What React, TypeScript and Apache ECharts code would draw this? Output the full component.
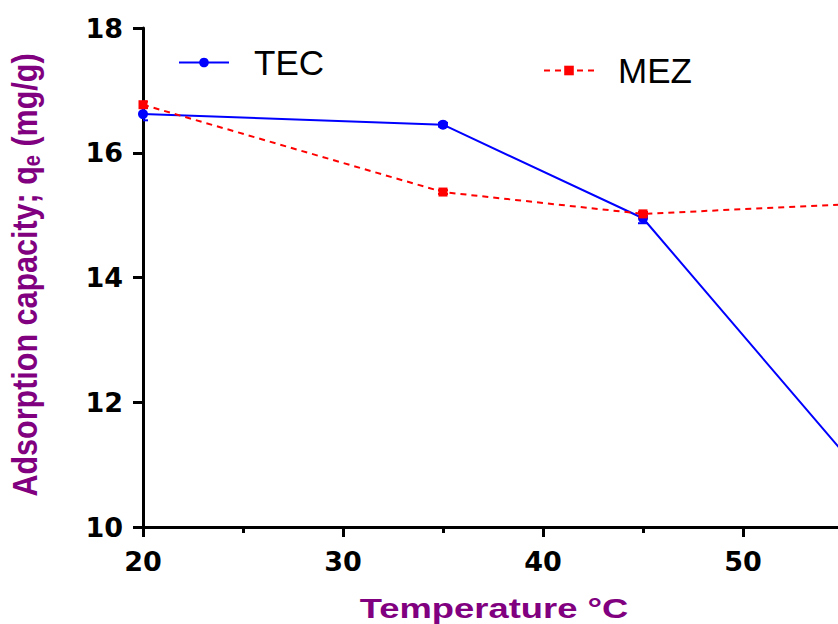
import React, { useEffect, useRef } from "react";
import * as echarts from "echarts";

const temperatures = [20, 35, 45, 55];
const tecValues = [16.62, 16.45, 14.95, 11.2];
const mezValues = [16.77, 15.37, 15.02, 15.17];
const tecErrors = [0.1, 0.03, 0.08, 0.08];
const mezErrors = [0.05, 0.03, 0.03, 0.05];
const seriesNames = ["TEC", "MEZ"];
const yAxisTitle = "Adsorption capacity; q";
const xAxisTitle = "Temperature \u00B0C";

const FONT = "'Liberation Sans', Arial, sans-serif";
const TICKFONT = "'DejaVu Sans', sans-serif";
const BLUE = "#0000ff";
const RED = "#ff0000";
const PURPLE = "#800080";

function errorSeries(values: number[], errors: number[], color: string) {
  return {
    type: "custom",
    silent: true,
    z: 3,
    clip: true,
    renderItem: (params: any, api: any) => {
      const x = api.value(0);
      const y = api.value(1);
      const e = api.value(2);
      const hi = api.coord([x, y + e]);
      const lo = api.coord([x, y - e]);
      const cap = 5;
      const st = { stroke: color, lineWidth: 2 };
      return {
        type: "group",
        children: [
          { type: "line", shape: { x1: hi[0], y1: hi[1], x2: lo[0], y2: lo[1] }, style: st },
          { type: "line", shape: { x1: hi[0] - cap, y1: hi[1], x2: hi[0] + cap, y2: hi[1] }, style: st },
          { type: "line", shape: { x1: lo[0] - cap, y1: lo[1], x2: lo[0] + cap, y2: lo[1] }, style: st },
        ],
      };
    },
    data: temperatures.map((t, i) => [t, values[i], errors[i]]),
  };
}

export default function App() {
  const ref = useRef<HTMLDivElement>(null);
  useEffect(() => {
    if (!ref.current) return;
    document.body.style.margin = "0";
    document.body.style.overflow = "hidden";
    const chart = echarts.init(ref.current, null, { renderer: "svg" });
    chart.setOption({
      animation: false,
      backgroundColor: "#ffffff",
      grid: { left: 143, top: 28, bottom: 97, right: 0, containLabel: false, outerBoundsMode: "none" },
      legend: [
        {
          data: [seriesNames[0]],
          left: 173,
          top: 40,
          itemWidth: 50,
          itemHeight: 12,
          textStyle: { fontFamily: FONT, fontSize: 35, color: "#000", padding: [0, 0, 0, 20] },
        },
        {
          data: [seriesNames[1]],
          left: 538,
          top: 48,
          itemWidth: 50,
          itemHeight: 12,
          textStyle: { fontFamily: FONT, fontSize: 35, color: "#000", padding: [0, 0, 0, 19] },
        },
      ],
      xAxis: {
        type: "value",
        min: 20,
        max: 60,
        interval: 10,
        axisLine: { show: true, lineStyle: { color: "#000", width: 3 } },
        axisTick: { show: true, length: 10, lineStyle: { color: "#000", width: 3 } },
        minorTick: { show: true, splitNumber: 2, length: 6, lineStyle: { color: "#000", width: 3 } },
        splitLine: { show: false },
        minorSplitLine: { show: false },
        axisLabel: {
          margin: 21,
          showMaxLabel: false,
          fontFamily: TICKFONT,
          fontSize: 27,
          fontWeight: "bold",
          color: "#000",
        },
      },
      yAxis: {
        type: "value",
        min: 10,
        max: 18,
        interval: 2,
        axisLine: { show: true, lineStyle: { color: "#000", width: 3 } },
        axisTick: { show: true, length: 10, lineStyle: { color: "#000", width: 3 } },
        splitLine: { show: false },
        axisLabel: { margin: 20, fontFamily: TICKFONT, fontSize: 27, fontWeight: "bold", color: "#000" },
      },
      graphic: [
        {
          type: "text",
          x: 25,
          y: 275,
          rotation: Math.PI / 2,
          scaleX: 1,
          scaleY: 1.18,
          style: {
            text: "{a|" + yAxisTitle + "}{s|e}{a| (mg/g)}",
            align: "center",
            verticalAlign: "middle",
            rich: {
              a: { fontFamily: FONT, fontSize: 30.5, fontWeight: "bold", fill: PURPLE, color: PURPLE },
              s: { fontFamily: FONT, fontSize: 20, fontWeight: "bold", fill: PURPLE, color: PURPLE, padding: [12, 0, 0, 0] },
            },
          },
        },
        {
          type: "text",
          x: 494,
          y: 609,
          scaleX: 1.3,
          style: {
            text: xAxisTitle,
            align: "center",
            verticalAlign: "middle",
            fontFamily: FONT,
            fontSize: 28,
            fontWeight: "bold",
            fill: PURPLE,
          },
        },
      ],
      series: [
        errorSeries(tecValues, tecErrors, BLUE),
        errorSeries(mezValues, mezErrors, RED),
        {
          name: seriesNames[0],
          type: "line",
          data: temperatures.map((t, i) => [t, tecValues[i]]),
          symbol: "circle",
          symbolSize: 10,
          z: 4,
          itemStyle: { color: BLUE },
          lineStyle: { color: BLUE, width: 2 },
        },
        {
          name: seriesNames[1],
          type: "line",
          data: temperatures.map((t, i) => [t, mezValues[i]]),
          symbol: "rect",
          symbolSize: 9,
          z: 5,
          itemStyle: { color: RED },
          lineStyle: { color: RED, width: 2, type: [6, 5] },
        },
      ],
    });
    return () => chart.dispose();
  }, []);
  return (
    <div
      ref={ref}
      style={{ position: "fixed", left: 0, top: 0, width: 943, height: 624, background: "#fff" }}
    />
  );
}
